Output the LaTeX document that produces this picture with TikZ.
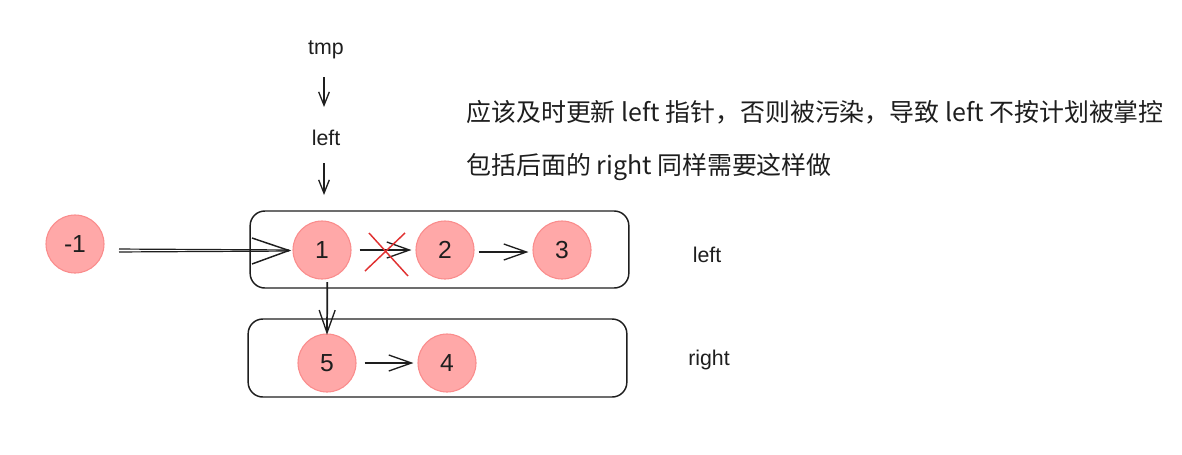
\documentclass[tikz,border=0pt]{standalone}
\usepackage{fontspec}
\setmainfont{Liberation Sans}
\newfontfamily\cjk{Noto Sans CJK SC}
\usetikzlibrary{arrows.meta}
\definecolor{nodefill}{RGB}{255,168,168}
\definecolor{nodeedge}{RGB}{250,140,140}
\definecolor{ink}{RGB}{30,30,30}
\definecolor{crossred}{RGB}{224,49,49}
\begin{document}
\begin{tikzpicture}[x=0.75pt,y=-0.75pt,
  listnode/.style={circle,fill=nodefill,draw=nodeedge,line width=0.8pt,minimum size=43.5pt,inner sep=0pt,font=\fontsize{18.5}{18.5}\selectfont,text=ink},
  box/.style={draw=ink,line width=1.1pt,rounded corners=11pt,minimum width=284pt,inner sep=0pt},
  lbl/.style={font=\fontsize{16}{16}\selectfont,text=ink,inner sep=0pt},
  note/.style={font=\fontsize{18.7}{18.7}\cjk,text=ink,inner sep=0pt,anchor=west},
  smallarr/.style={draw=ink,line width=1pt,-{Straight Barb[length=10pt,width=8pt,line width=1pt]}},
  midarr/.style={draw=ink,line width=1pt,-{Straight Barb[length=17pt,width=12pt,line width=1pt]}},
]
\useasboundingbox (0,0) rectangle (1182,454);
% boxes
\node[box,minimum height=57.75pt] (boxL) at (439.5,249.5) {};
\node[box,minimum height=58.5pt] (boxR) at (437.5,358) {};
% list nodes
\node[listnode] (m1) at (75,244) {-1};
\node[listnode] (n1) at (322,250) {1};
\node[listnode] (n2) at (445,250) {2};
\node[listnode] (n3) at (562,250) {3};
\node[listnode] (n5) at (327,363) {5};
\node[listnode] (n4) at (447,363) {4};
% labels
\node[lbl] (tmp) at (326,50) {tmp};
\node[lbl] (lft) at (326,138) {left};
\node[lbl] (lblL) at (707,255) {left};
\node[lbl] (lblR) at (709,360) {right};
\node[note] (t1) at (466,112) {应该及时更新 left 指针，否则被污染，导致 left 不按计划被掌控};
\node[note] (t2) at (466,167) {包括后面的 right 同样需要这样做};
% pointer arrows
\coordinate (tmpEnd) at (324,107);
\coordinate (lftEnd) at (324,195);
\draw[smallarr] ([yshift=-13.5pt]tmp.south -| tmpEnd) -- (tmpEnd);
\draw[smallarr] ([yshift=-13pt]lft.south -| lftEnd) -- (lftEnd);
% big double arrow from -1 to 1
\coordinate (bigS) at (119,250.5);
\coordinate (bigT) at (289,250.5);
\draw[ink,line width=0.9pt] ([yshift=1.1pt]bigS) -- ([yshift=0.4pt]bigT);
\draw[ink,line width=0.9pt] ([yshift=-1.1pt]bigS) -- ([yshift=-0.4pt]bigT);
\draw[ink,line width=1.1pt] (252,238) -- (bigT) -- (252,264);
% 1 -> 2 (crossed)
\draw[midarr] (n1.east) ++(8,0) coordinate (a12) -- ([xshift=-3pt]n2.west);
\draw[crossred,line width=1.1pt] (365,271) -- (405,233);
\draw[crossred,line width=1.1pt] (369,233) -- (408,276);
% 2 -> 3
\draw[midarr] ([xshift=3pt,yshift=-1.5pt]n2.east) -- ([xshift=-3pt,yshift=-1.5pt]n3.west);
% 1 -> 5
\draw[midarr,line width=1.3pt] ([xshift=4pt,yshift=-2pt]n1.south) -- ([yshift=-1pt]n5.north);
% 5 -> 4
\draw[midarr] ([xshift=6pt]n5.east) -- ([xshift=-3pt]n4.west);
\end{tikzpicture}
\end{document}
